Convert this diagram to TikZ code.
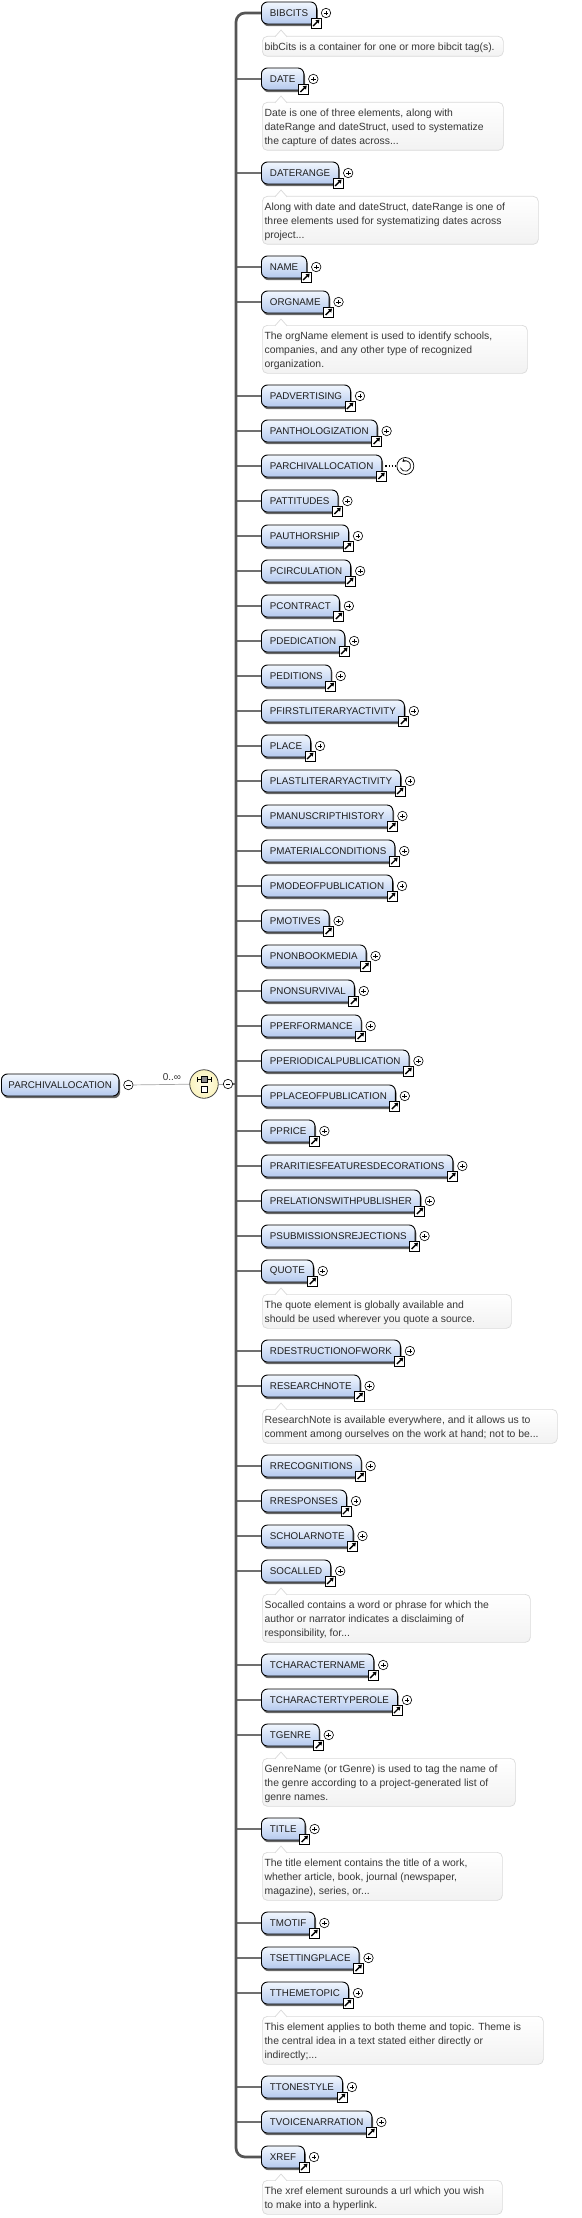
\documentclass[tikz,border=0pt]{standalone}
\usepackage{fontspec}
\setmainfont{Liberation Sans}
\usetikzlibrary{arrows.meta,shadows,calc}
\pgfdeclarelayer{bg}
\pgfsetlayers{bg,main}
\definecolor{elemtop}{RGB}{242,247,254}
\definecolor{elembot}{RGB}{180,201,238}
\definecolor{shadowgray}{RGB}{105,105,105}
\definecolor{bargray}{RGB}{85,85,85}
\definecolor{branchgray}{RGB}{112,112,112}
\definecolor{descborder}{RGB}{218,218,218}
\definecolor{desctop}{RGB}{255,255,255}
\definecolor{descbot}{RGB}{242,242,242}
\definecolor{desctextc}{RGB}{55,55,55}
\definecolor{seqfill}{RGB}{250,243,190}
\definecolor{seqin}{RGB}{255,253,232}
\definecolor{multgray}{RGB}{165,165,165}
\tikzset{
  elembox/.style={draw=black, line width=0.9pt, rounded corners=6pt,
    top color=elemtop, bottom color=elembot, anchor=west,
    minimum height=22pt, inner xsep=8.5pt, inner ysep=0pt,
    font=\fontsize{9.8}{11}\selectfont, text=black!88,
    general shadow={fill=shadowgray, shadow xshift=1.2pt, shadow yshift=-2.2pt}},
  rootbox/.style={elembox, inner xsep=7pt},
  branch/.style={draw=branchgray, line width=1.7pt},
  barline/.style={draw=bargray, line width=2.7pt},
  thinconn/.style={draw=multgray, line width=0.7pt},
  linkicon/.style={draw=black, line width=0.8pt, fill=white, minimum size=10pt, inner sep=0pt,
    path picture={\draw[line width=1.4pt, -{Triangle[length=3.4pt,width=4.4pt]}]
      ([shift={(-3pt,-3pt)}]path picture bounding box.center) --
      ([shift={(3.4pt,3.4pt)}]path picture bounding box.center);}},
  pluscirc/.style={circle, draw=black, line width=0.6pt, fill=white, minimum size=9.5pt, inner sep=0pt,
    path picture={\draw[line width=0.7pt]
      ([xshift=-2.4pt]path picture bounding box.center) -- ([xshift=2.4pt]path picture bounding box.center)
      ([yshift=-2.4pt]path picture bounding box.center) -- ([yshift=2.4pt]path picture bounding box.center);}},
  minuscirc/.style={circle, draw=black, line width=0.6pt, fill=white, minimum size=9.5pt, inner sep=0pt,
    path picture={\draw[line width=0.7pt]
      ([xshift=-2.4pt]path picture bounding box.center) -- ([xshift=2.4pt]path picture bounding box.center);}},
  recurcirc/.style={circle, draw=black, line width=0.7pt, fill=white, minimum size=17pt, inner sep=0pt,
    path picture={\draw[line width=0.7pt, -{Stealth[length=3pt,width=3.4pt]}]
      ([shift={(200:5.3pt)}]path picture bounding box.center) arc[start angle=200, end angle=485, radius=5.3pt];}},
  compositor/.style={circle, draw=black!75, line width=0.8pt, inner color=seqin, outer color=seqfill,
    minimum size=28.5pt, inner sep=0pt},
  multlabel/.style={inner sep=0pt, font=\fontsize{10}{12}\selectfont, text=black!80},
  descbox/.style={draw=descborder, line width=0.7pt, rounded corners=5pt,
    top color=desctop, bottom color=descbot, anchor=north west, inner sep=0pt},
  desctext/.style={anchor=north west, inner sep=0pt, align=left, text=desctextc,
    font=\fontsize{10.4}{14.2}\selectfont},
}
\newcommand\xselemcore[2]{%
  \node[elembox] (#1) at (261,#2) {#1};
  \node[linkicon] (#1-l) at ([shift={(-1pt,-10pt)}]#1.east) {};
  \node[pluscirc] (#1-p) at ([xshift=9pt]#1.east) {};
}
\newcommand\xselem[2]{%
  \xselemcore{#1}{#2}%
  \begin{pgfonlayer}{bg}\draw[branch] (barx |- #1.west) -- (#1.west);\end{pgfonlayer}%
}
\newcommand\xsdesc[5]{%
  \node[descbox, minimum width={(#3-262)*1pt}, minimum height={(6+14*#4)*1pt}] (#1-d) at (262,#2+23) {};
  \filldraw[draw=descborder, fill=white, line width=0.7pt]
    ([shift={(13pt,-0.8pt)}]#1-d.north west) -- ([shift={(19pt,6pt)}]#1-d.north west) --
    ([shift={(25pt,-0.8pt)}]#1-d.north west);
  \node[desctext] (#1-t) at ([shift={(2.4pt,-6.5pt)}]#1-d.north west) {#5};
}
\begin{document}
\begin{tikzpicture}[x=1pt,y=-1pt]
\useasboundingbox (0,0) rectangle (581,2218);
\coordinate (barx) at (236,1084);

% root and compositor
\node[rootbox] (root) at (1,1085) {PARCHIVALLOCATION};
\node[minuscirc] (root-m) at ([xshift=9pt]root.east) {};
\node[compositor] (seq) at (204,1084) {};
\node[minuscirc] (seq-m) at (228,1084) {};
\node[multlabel] (mult) at (172,1077) {0..∞};
\begin{pgfonlayer}{bg}
\draw[thinconn] (root-m) -- (seq);
\draw[thinconn] (seq) -- (seq-m);
\draw[branch] (seq-m) -- (barx);
\end{pgfonlayer}
\draw[line width=0.8pt] (197,1079.3) -- (211.5,1079.3);
\draw[line width=0.8pt] (197,1077) -- (197,1081.6) (211.5,1077) -- (211.5,1081.6);
\filldraw[fill=black!45, draw=black, line width=0.6pt] (201.2,1076.3) rectangle (207.6,1082.3);
\filldraw[fill=white, draw=black, line width=0.6pt] (201.2,1086) rectangle (207.6,1092);

% children
\xselemcore{BIBCITS}{13}
\xsdesc{BIBCITS}{13}{503}{1}{bibCits is a container for one or more bibcit tag(s).}
\xselem{DATE}{79}
\xsdesc{DATE}{79}{503}{3}{Date is one of three elements, along with\\dateRange and dateStruct, used to systematize\\the capture of dates across...}
\xselem{DATERANGE}{173}
\xsdesc{DATERANGE}{173}{538}{3}{Along with date and dateStruct, dateRange is one of\\three elements used for systematizing dates across\\project...}
\xselem{NAME}{267}
\xselem{ORGNAME}{302}
\xsdesc{ORGNAME}{302}{527}{3}{The orgName element is used to identify schools,\\companies, and any other type of recognized\\organization.}
\xselem{PADVERTISING}{396}
\xselem{PANTHOLOGIZATION}{431}

\node[elembox] (PARCHIVALLOCATION) at (261,466) {PARCHIVALLOCATION};
\node[linkicon] (PARCHIVALLOCATION-l) at ([shift={(-1pt,-10pt)}]PARCHIVALLOCATION.east) {};
\node[recurcirc] (PARCHIVALLOCATION-r) at ([xshift=23pt]PARCHIVALLOCATION.east) {};
\begin{pgfonlayer}{bg}
\draw[branch] (barx |- PARCHIVALLOCATION.west) -- (PARCHIVALLOCATION.west);
\draw[dotted, line width=1.1pt] (PARCHIVALLOCATION.east) -- (PARCHIVALLOCATION-r);
\end{pgfonlayer}

\xselem{PATTITUDES}{501}
\xselem{PAUTHORSHIP}{536}
\xselem{PCIRCULATION}{571}
\xselem{PCONTRACT}{606}
\xselem{PDEDICATION}{641}
\xselem{PEDITIONS}{676}
\xselem{PFIRSTLITERARYACTIVITY}{711}
\xselem{PLACE}{746}
\xselem{PLASTLITERARYACTIVITY}{781}
\xselem{PMANUSCRIPTHISTORY}{816}
\xselem{PMATERIALCONDITIONS}{851}
\xselem{PMODEOFPUBLICATION}{886}
\xselem{PMOTIVES}{921}
\xselem{PNONBOOKMEDIA}{956}
\xselem{PNONSURVIVAL}{991}
\xselem{PPERFORMANCE}{1026}
\xselem{PPERIODICALPUBLICATION}{1061}
\xselem{PPLACEOFPUBLICATION}{1096}
\xselem{PPRICE}{1131}
\xselem{PRARITIESFEATURESDECORATIONS}{1166}
\xselem{PRELATIONSWITHPUBLISHER}{1201}
\xselem{PSUBMISSIONSREJECTIONS}{1236}
\xselem{QUOTE}{1271}
\xsdesc{QUOTE}{1271}{511}{2}{The quote element is globally available and\\should be used wherever you quote a source.}
\xselem{RDESTRUCTIONOFWORK}{1351}
\xselem{RESEARCHNOTE}{1386}
\xsdesc{RESEARCHNOTE}{1386}{557}{2}{ResearchNote is available everywhere, and it allows us to\\comment among ourselves on the work at hand; not to be...}
\xselem{RRECOGNITIONS}{1466}
\xselem{RRESPONSES}{1501}
\xselem{SCHOLARNOTE}{1536}
\xselem{SOCALLED}{1571}
\xsdesc{SOCALLED}{1571}{530}{3}{Socalled contains a word or phrase for which the\\author or narrator indicates a disclaiming of\\responsibility, for...}
\xselem{TCHARACTERNAME}{1665}
\xselem{TCHARACTERTYPEROLE}{1700}
\xselem{TGENRE}{1735}
\xsdesc{TGENRE}{1735}{515}{3}{GenreName (or tGenre) is used to tag the name of\\the genre according to a project-generated list of\\genre names.}
\xselem{TITLE}{1829}
\xsdesc{TITLE}{1829}{502}{3}{The title element contains the title of a work,\\whether article, book, journal (newspaper,\\magazine), series, or...}
\xselem{TMOTIF}{1923}
\xselem{TSETTINGPLACE}{1958}
\xselem{TTHEMETOPIC}{1993}
\xsdesc{TTHEMETOPIC}{1993}{543}{3}{This element applies to both theme and topic. Theme is\\the central idea in a text stated either directly or\\indirectly;...}
\xselem{TTONESTYLE}{2087}
\xselem{TVOICENARRATION}{2122}
\xselemcore{XREF}{2157}
\xsdesc{XREF}{2157}{502}{2}{The xref element surounds a url which you wish\\to make into a hyperlink.}

\begin{pgfonlayer}{bg}
\draw[barline, rounded corners=9pt] (BIBCITS.west) -| (barx |- XREF.west) -- (XREF.west);
\end{pgfonlayer}
\end{tikzpicture}
\end{document}
